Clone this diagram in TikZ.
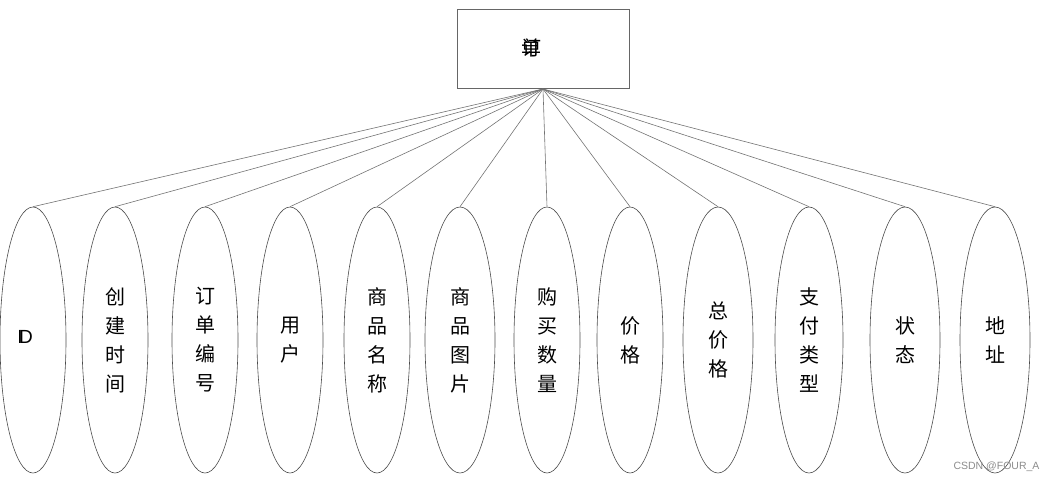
\documentclass[tikz,border=0pt]{standalone}
\usepackage{fontspec}
\setmainfont{Liberation Sans}
\newfontfamily\cjk{Noto Sans CJK SC}
\usetikzlibrary{shapes.geometric}
\begin{document}
\begin{tikzpicture}[x=1pt,y=-1pt,
  attr/.style={draw=black!70,line width=0.6pt,ellipse,minimum width=66pt,minimum height=266pt,inner sep=0pt,font=\cjk\fontsize{20}{29}\selectfont,align=center},
  ent/.style={draw=black!60,line width=0.8pt,rectangle,minimum width=172pt,minimum height=79pt,inner sep=0pt},
  conn/.style={draw=black!55,line width=0.6pt}]
\useasboundingbox (0,0) rectangle (1057,483);
\node[ent] (box) at (543,48.5) {};
\node[font=\cjk\fontsize{20}{24}\selectfont] (boxlabel) at (531,48) {\rlap{订}单};
\coordinate (hub) at (543,89);
\node[attr] (a1) at (33,340) {};
\node[font=\fontsize{19}{24}\selectfont] (a1t) at (25,337) {I\kern-3.5pt D};
\node[attr] (a2) at (115,340) {创\\建\\时\\间};
\node[attr] (a3) at (205,340) {订\\单\\编\\号};
\node[attr] (a4) at (290,340) {用\\户};
\node[attr] (a5) at (377,340) {商\\品\\名\\称};
\node[attr,minimum width=70pt] (a6) at (460,340) {商\\品\\图\\片};
\node[attr] (a7) at (547,340) {购\\买\\数\\量};
\node[attr] (a8) at (630,340) {价\\格};
\node[attr,minimum width=70pt] (a9) at (718,340) {总\\价\\格};
\node[attr,minimum width=68pt] (a10) at (809,340) {支\\付\\类\\型};
\node[attr,minimum width=70pt] (a11) at (905,340) {状\\态};
\node[attr,minimum width=70pt] (a12) at (995,340) {地\\址};
\foreach \i in {1,...,12} {\draw[conn] (hub) -- (a\i.north);}
\node[font=\fontsize{10.5}{12}\selectfont,text=black!45,anchor=east] (wm) at (1043,467) {CSDN @FOUR\_A};
\end{tikzpicture}
\end{document}
